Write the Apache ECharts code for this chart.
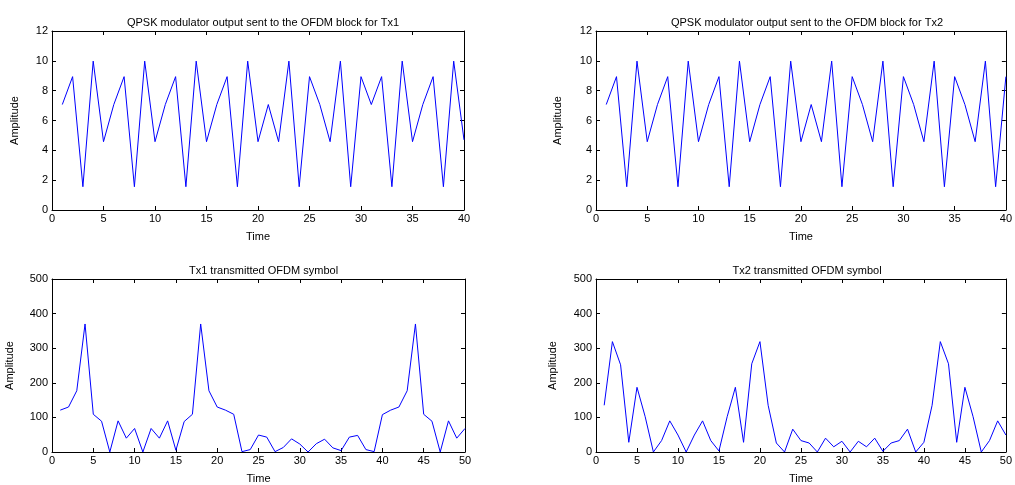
<!DOCTYPE html>
<html>
<head>
<meta charset="utf-8">
<script src="https://cdn.jsdelivr.net/npm/echarts@6/dist/echarts.min.js"></script>
<style>
  html, body { margin: 0; padding: 0; background: #fff; }
  #main { width: 1015px; height: 485px; }
</style>
</head>
<body>
<div id="main"></div>
<script>
// QPSK modulator output (time 1..40)
var qpskTx1 = [7.07, 8.94, 1.56, 9.98, 4.58, 7.07, 8.94, 1.56, 9.98, 4.58,
  7.07, 8.94, 1.56, 9.98, 4.58, 7.07, 8.94, 1.56, 9.98, 4.58,
  7.07, 4.58, 9.98, 1.56, 8.94, 7.07, 4.58, 9.98, 1.56, 8.94,
  7.07, 8.94, 1.56, 9.98, 4.58, 7.07, 8.94, 1.56, 9.98, 4.7];
var qpskTx2 = [7.07, 8.94, 1.56, 9.98, 4.58, 7.07, 8.94, 1.56, 9.98, 4.58,
  7.07, 8.94, 1.56, 9.98, 4.58, 7.07, 8.94, 1.56, 9.98, 4.58,
  7.07, 4.58, 9.98, 1.56, 8.94, 7.07, 4.58, 9.98, 1.56, 8.94,
  7.07, 4.58, 9.98, 1.56, 8.94, 7.07, 4.58, 9.98, 1.56, 8.94];

// transmitted OFDM symbol amplitude (time 1..50)
var ofdmTx1 = [121, 130, 177, 370, 109, 89, 0, 90, 40, 68,
  0, 68, 40, 90, 5, 88, 109, 370, 177, 130,
  121, 109, 1, 7, 49, 43, 1, 13, 38, 23,
  0, 24, 37, 12, 4, 43, 48, 7, 1, 108,
  121, 130, 177, 370, 109, 89, 0, 90, 40, 68];
var ofdmTx2 = [135, 319, 252, 28, 187, 102, 0, 33, 90, 49,
  0, 49, 90, 33, 3, 102, 187, 28, 255, 319,
  135, 26, 0, 66, 33, 26, 0, 40, 15, 31,
  0, 31, 15, 40, 2, 26, 33, 66, 0, 28,
  135, 319, 255, 28, 187, 102, 0, 33, 90, 49];

var titles = [
  "QPSK modulator output sent to the OFDM block for Tx1",
  "QPSK modulator output sent to the OFDM block for Tx2",
  "Tx1 transmitted OFDM symbol",
  "Tx2 transmitted OFDM symbol"
];
var xMax = [40, 40, 50, 50];
var yMax = [12, 12, 500, 500];
var yStep = [2, 2, 100, 100];
var seriesData = [qpskTx1, qpskTx2, ofdmTx1, ofdmTx2];

var FONT = "'Liberation Sans', Arial, sans-serif";
var grids = [
  { left: 52, top: 31, width: 412, height: 179 },
  { left: 596, top: 31, width: 412, height: 179 },
  { left: 52, top: 279, width: 413, height: 180 },
  { left: 596, top: 279, width: 412, height: 180 }
];
var yNameGap = [32, 33, 37, 38];

var myChart = echarts.init(document.getElementById("main"), null, { renderer: "canvas" });

var lineStyle = { color: "#000", width: 1 };
var tick = { show: true, inside: true, length: 4, lineStyle: { color: "#000" } };
var option = {
  animation: false,
  backgroundColor: "#fff",
  title: [],
  grid: grids,
  xAxis: [],
  yAxis: [],
  series: []
};

grids.forEach(function (g, i) {
  option.title.push({
    text: titles[i],
    left: g.left + g.width / 2,
    top: g.top - 19,
    textAlign: "center",
    textStyle: { fontFamily: FONT, fontSize: 11, fontWeight: "normal", color: "#000" }
  });
  // bottom / left axes with labels
  option.xAxis.push({
    type: "value", gridIndex: i, min: 0, max: xMax[i], interval: 5,
    name: "Time", nameLocation: "middle", nameGap: 21,
    nameTextStyle: { fontFamily: FONT, fontSize: 11, color: "#000" },
    axisLine: { show: true, onZero: false, lineStyle: lineStyle },
    axisTick: tick,
    axisLabel: { fontFamily: FONT, fontSize: 11, color: "#000", margin: 3 },
    splitLine: { show: false }
  });
  option.yAxis.push({
    type: "value", gridIndex: i, min: 0, max: yMax[i], interval: yStep[i],
    name: "Amplitude", nameLocation: "middle", nameGap: yNameGap[i], nameRotate: 90,
    nameTextStyle: { fontFamily: FONT, fontSize: 11, color: "#000" },
    axisLine: { show: true, onZero: false, lineStyle: lineStyle },
    axisTick: tick,
    axisLabel: { fontFamily: FONT, fontSize: 11, color: "#000", margin: 4 },
    splitLine: { show: false }
  });
});
// top / right axes for the box and mirrored ticks
grids.forEach(function (g, i) {
  option.xAxis.push({
    type: "value", gridIndex: i, position: "top", min: 0, max: xMax[i], interval: 5,
    axisLine: { show: true, onZero: false, lineStyle: lineStyle },
    axisTick: tick, axisLabel: { show: false }, splitLine: { show: false }
  });
  option.yAxis.push({
    type: "value", gridIndex: i, position: "right", min: 0, max: yMax[i], interval: yStep[i],
    axisLine: { show: true, onZero: false, lineStyle: lineStyle },
    axisTick: tick, axisLabel: { show: false }, splitLine: { show: false }
  });
});

seriesData.forEach(function (arr, i) {
  option.series.push({
    type: "line",
    xAxisIndex: i,
    yAxisIndex: i,
    data: arr.map(function (v, k) { return [k + 1, v]; }),
    showSymbol: false,
    lineStyle: { color: "#0000ff", width: 1 },
    itemStyle: { color: "#0000ff" }
  });
});

myChart.setOption(option);
</script>
</body>
</html>
